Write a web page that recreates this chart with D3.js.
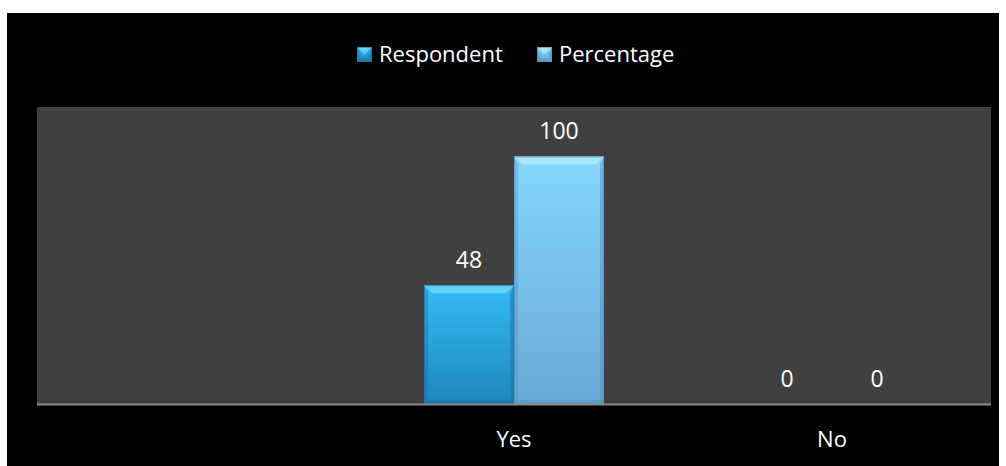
<!DOCTYPE html>
<html>
<head>
<meta charset="utf-8">
<script src="https://cdn.jsdelivr.net/npm/d3@7"></script>
<style>
  html, body { margin: 0; padding: 0; background: #ffffff; }
  svg { display: block; }
  text { font-family: "Open Sans", "Noto Sans", sans-serif; fill: #ffffff; }
</style>
</head>
<body>
<svg id="chart" width="1006" height="466"></svg>
<script>
// Survey answers: three category slots, the first one left blank
const categories = ["", "Yes", "No"];
const seriesNames = ["Respondent", "Percentage"];
const respondent = [null, 48, 0];
const percentage = [null, 100, 0];
const yMax = 120;

const svg = d3.select("#chart");
const W = 1006, H = 466;

// Black chart frame
svg.append("rect").attr("x", 7).attr("y", 13).attr("width", 992).attr("height", H - 13).attr("fill", "#000");

const plot = { left: 37, right: 991, top: 107, bottom: 404 };

svg.append("rect")
  .attr("x", plot.left).attr("y", plot.top)
  .attr("width", plot.right - plot.left).attr("height", plot.bottom - plot.top)
  .attr("fill", "#404040");

const x0 = d3.scaleBand().domain(categories.map((c, i) => i)).range([plot.left, plot.right]).paddingInner(0).paddingOuter(0);
const groupW = 180;
const x1 = d3.scaleBand().domain(seriesNames).range([0, groupW]);
const y = d3.scaleLinear().domain([0, yMax]).range([plot.bottom, plot.top]);

const defs = svg.append("defs");
const palette = {
  Respondent: { top: "#33BBF2", bottom: "#1F86BE", bevel: "#6FD6FA", edge: "#1A6E9C" },
  Percentage: { top: "#84D7FC", bottom: "#68A9D6", bevel: "#AEE6FD", edge: "#4F8DB8" }
};
seriesNames.forEach(s => {
  const g = defs.append("linearGradient").attr("id", "grad-" + s).attr("x1", 0).attr("y1", 0).attr("x2", 0).attr("y2", 1);
  g.append("stop").attr("offset", "0%").attr("stop-color", palette[s].top);
  g.append("stop").attr("offset", "100%").attr("stop-color", palette[s].bottom);
});

// Bevelled bar: gradient body, light top facet, darker sides and bottom facet
function drawBar(parent, bx, by, bw, bh, s) {
  if (bh <= 0) return;
  const g = parent.append("g");
  const b = Math.min(8, bh / 2);
  g.append("rect").attr("x", bx).attr("y", by).attr("width", bw).attr("height", bh)
    .attr("fill", `url(#grad-${s})`);
  g.append("polygon")
    .attr("points", [[bx, by], [bx + bw, by], [bx + bw - b, by + b], [bx + b, by + b]].map(p => p.join(",")).join(" "))
    .attr("fill", palette[s].bevel).attr("opacity", 0.85);
  g.append("polygon")
    .attr("points", [[bx, by], [bx + b * 0.5, by + b], [bx + b * 0.5, by + bh - b * 0.5], [bx, by + bh]].map(p => p.join(",")).join(" "))
    .attr("fill", palette[s].edge).attr("opacity", 0.35);
  g.append("polygon")
    .attr("points", [[bx + bw, by], [bx + bw - b * 0.5, by + b], [bx + bw - b * 0.5, by + bh - b * 0.5], [bx + bw, by + bh]].map(p => p.join(",")).join(" "))
    .attr("fill", palette[s].edge).attr("opacity", 0.45);
  g.append("polygon")
    .attr("points", [[bx, by + bh], [bx + b * 0.5, by + bh - b * 0.5], [bx + bw - b * 0.5, by + bh - b * 0.5], [bx + bw, by + bh]].map(p => p.join(",")).join(" "))
    .attr("fill", palette[s].edge).attr("opacity", 0.5);
  g.append("rect").attr("x", bx + 0.5).attr("y", by + 0.5).attr("width", bw - 1).attr("height", bh - 1)
    .attr("fill", "none").attr("stroke", palette[s].edge).attr("stroke-width", 1).attr("opacity", 0.6);
}

const series = { Respondent: respondent, Percentage: percentage };
const bars = svg.append("g");
categories.forEach((c, i) => {
  const gx = x0(i) + (x0.bandwidth() - groupW) / 2;
  seriesNames.forEach(s => {
    const v = series[s][i];
    if (v === null) return;
    const bx = gx + x1(s);
    drawBar(bars, bx, y(v), x1.bandwidth(), y(0) - y(v), s);
    bars.append("text")
      .attr("x", bx + x1.bandwidth() / 2)
      .attr("y", y(v) - 17.5)
      .attr("text-anchor", "middle")
      .attr("font-size", 23)
      .text(v);
  });
});

// Category axis baseline
svg.append("line")
  .attr("x1", plot.left).attr("x2", plot.right)
  .attr("y1", plot.bottom + 0.5).attr("y2", plot.bottom + 0.5)
  .attr("stroke", "#8c8c8c").attr("stroke-width", 2);

const xAxis = d3.axisBottom(x0).tickSize(0).tickPadding(0).tickFormat(i => categories[i]);
const axisG = svg.append("g").attr("transform", `translate(0,${plot.bottom})`).call(xAxis);
axisG.select(".domain").remove();
axisG.selectAll("text")
  .attr("y", 43)
  .attr("dy", 0)
  .attr("font-size", 22)
  .attr("fill", "#fff")
  .style("font-family", '"Open Sans", "Noto Sans", sans-serif');

// Legend
const legend = svg.append("g");
const legendItems = [
  { name: "Respondent", x: 357 },
  { name: "Percentage", x: 537 }
];
legendItems.forEach(d => {
  drawBar(legend, d.x, 47, 15, 15, d.name);
  legend.append("text")
    .attr("x", d.x + 22).attr("y", 62)
    .attr("font-size", 22)
    .text(d.name);
});
</script>
</body>
</html>
